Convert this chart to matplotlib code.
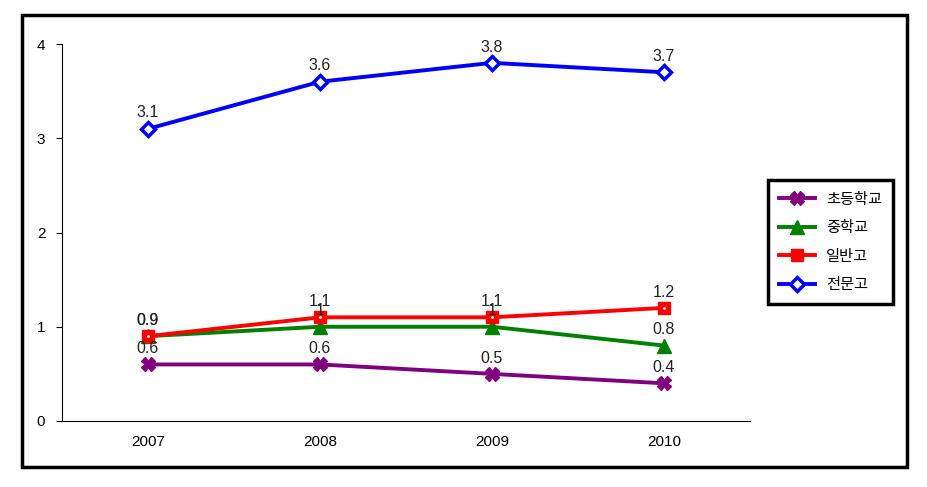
import matplotlib.pyplot as plt
from matplotlib.patches import Rectangle

plt.rcParams['font.family'] = ['Liberation Sans', 'Noto Sans CJK KR', 'DejaVu Sans']

years = ['2007', '2008', '2009', '2010']
names = ['초등학교', '중학교', '일반고', '전문고']
elem = [0.6, 0.6, 0.5, 0.4]
middle = [0.9, 1.0, 1.0, 0.8]
general = [0.9, 1.1, 1.1, 1.2]
special = [3.1, 3.6, 3.8, 3.7]

colors = ['#800080', '#008000', '#ff0000', '#0000ff']
markers = ['X', '^', 's', 'D']
series = [elem, middle, general, special]

fig = plt.figure(figsize=(9.28, 4.87), dpi=100)
ax = fig.add_axes([62/928, 1-421/487, 688/928, 377/487])

x = list(range(len(years)))
for vals, name, c, m in zip(series, names, colors, markers):
    if m == 'D':
        ax.plot(x, vals, color=c, lw=2.8, marker=m, ms=7.5, mfc='white', mec=c, mew=2.5, label=name)
    elif m == 's':
        ax.plot(x, vals, color=c, lw=2.8, marker=m, ms=8, mfc=c, mec=c, label=name)
        ax.plot(x, vals, ls='none', marker='.', ms=2, color='white')
    else:
        ax.plot(x, vals, color=c, lw=2.8, marker=m, ms=10, mfc=c, mec=c, label=name)
    for xi, v in zip(x, vals):
        txt = '%g' % v if v != int(v) else '%d' % v
        ax.annotate(txt, (xi, v), xytext=(0, 6), textcoords='offset points',
                    ha='center', va='bottom', fontsize=11.5, color='#222222')

ax.set_xlim(-0.5, 3.5)
ax.set_ylim(0, 4)
ax.set_yticks([0, 1, 2, 3, 4])
ax.set_xticks(x)
ax.set_xticklabels(years)
ax.tick_params(axis='x', length=0, pad=10, labelsize=11)
ax.tick_params(axis='y', length=4, pad=8, labelsize=11)
ax.spines['top'].set_visible(False)
ax.spines['right'].set_visible(False)

leg = fig.legend(loc='upper left', bbox_to_anchor=(768/928, 1-180/487),
                 borderaxespad=0,
                 fancybox=False, edgecolor='black', framealpha=1,
                 prop={'family': 'Noto Sans CJK KR', 'size': 11},
                 handlelength=2.4, labelspacing=0.75, borderpad=0.7,
                 handletextpad=0.7)
leg.get_frame().set_linewidth(2.5)

fig.patches.append(Rectangle((22/928, 1-467/487), 885/928, 452/487,
                             transform=fig.transFigure, fill=False,
                             edgecolor='black', lw=2.5))

fig.savefig('out.png', dpi=100)
